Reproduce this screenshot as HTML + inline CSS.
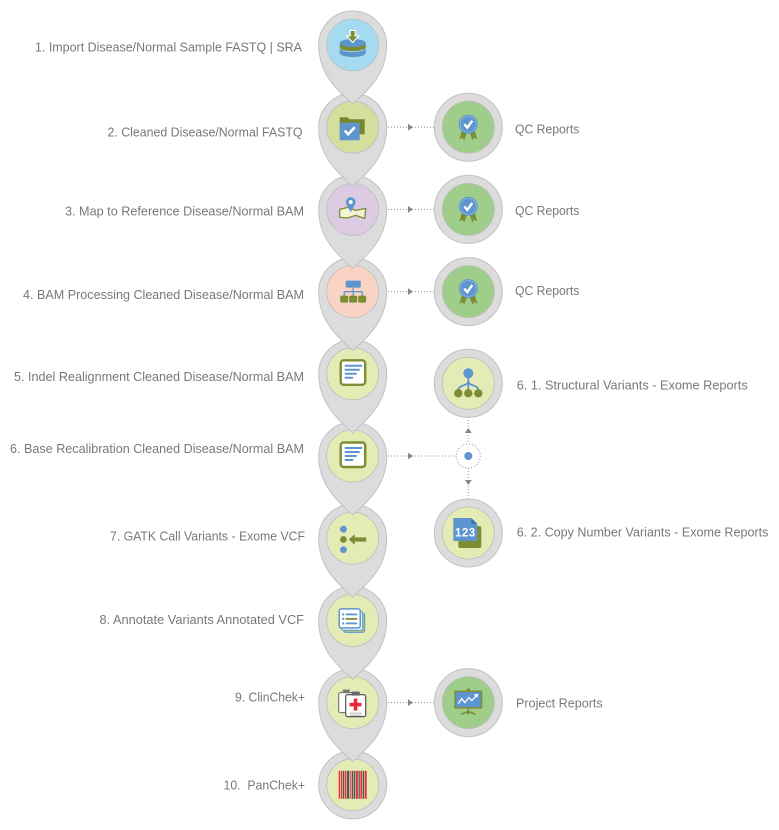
<!DOCTYPE html>
<html>
<head>
<meta charset="utf-8">
<style>
html,body{margin:0;padding:0;background:#fff;}
svg{display:block;}
text{font-family:"Liberation Sans",Arial,sans-serif;font-size:13px;fill:#787878;white-space:pre;}
</style>
</head>
<body>
<svg width="779" height="830" viewBox="0 0 779 830" xmlns="http://www.w3.org/2000/svg">

<!-- connectors -->
<g stroke="#9a9a9a" stroke-width="1.1" stroke-dasharray="1,2" fill="none">
  <line x1="388" y1="127.2" x2="434" y2="127.2"/>
  <line x1="388" y1="209.4" x2="434" y2="209.4"/>
  <line x1="388" y1="291.6" x2="434" y2="291.6"/>
  <line x1="388" y1="456" x2="456" y2="456"/>
  <line x1="388" y1="702.6" x2="434" y2="702.6"/>
  <line x1="468.3" y1="417" x2="468.3" y2="444"/>
  <line x1="468.3" y1="468" x2="468.3" y2="499"/>
  <circle cx="468.3" cy="456" r="12"/>
</g>
<g fill="#888">
  <polygon points="408,123.8 413,127.2 408,130.6"/>
  <polygon points="408,206 413,209.4 408,212.8"/>
  <polygon points="408,288.2 413,291.6 408,295"/>
  <polygon points="408,452.6 413,456 408,459.4"/>
  <polygon points="408,699.2 413,702.6 408,706"/>
  <polygon points="464.9,433 468.3,428 471.7,433"/>
  <polygon points="464.9,480 468.3,485 471.7,480"/>
</g>
<circle cx="468.3" cy="456" r="4" fill="#5d95cf"/>

<!-- right nodes -->
<g id="rq1" transform="translate(468.3,127.2)">
  <circle r="34" fill="#dcdcdc" stroke="#c2c2c2"/>
  <circle r="26" fill="#9fcd8a" stroke="#bdbdbd" stroke-width="0.8"/>
  <polygon points="-6,2 -1,4 -4,13 -6,10.5 -9,12" fill="#7d8d33"/>
  <polygon points="6,2 1,4 4,13 6,10.5 9,12" fill="#7d8d33"/>
  <circle cx="0" cy="-3" r="9.5" fill="#5d95cf"/>
  <circle cx="0" cy="-3" r="8" fill="none" stroke="#8fb8e2" stroke-width="0.8"/>
  <polyline points="-4,-3 -1,0.5 4,-6.5" fill="none" stroke="#fff" stroke-width="2.4"/>
</g>
<g transform="translate(468.3,209.4)">
  <circle r="34" fill="#dcdcdc" stroke="#c2c2c2"/>
  <circle r="26" fill="#9fcd8a" stroke="#bdbdbd" stroke-width="0.8"/>
  <polygon points="-6,2 -1,4 -4,13 -6,10.5 -9,12" fill="#7d8d33"/>
  <polygon points="6,2 1,4 4,13 6,10.5 9,12" fill="#7d8d33"/>
  <circle cx="0" cy="-3" r="9.5" fill="#5d95cf"/>
  <circle cx="0" cy="-3" r="8" fill="none" stroke="#8fb8e2" stroke-width="0.8"/>
  <polyline points="-4,-3 -1,0.5 4,-6.5" fill="none" stroke="#fff" stroke-width="2.4"/>
</g>
<g transform="translate(468.3,291.6)">
  <circle r="34" fill="#dcdcdc" stroke="#c2c2c2"/>
  <circle r="26" fill="#9fcd8a" stroke="#bdbdbd" stroke-width="0.8"/>
  <polygon points="-6,2 -1,4 -4,13 -6,10.5 -9,12" fill="#7d8d33"/>
  <polygon points="6,2 1,4 4,13 6,10.5 9,12" fill="#7d8d33"/>
  <circle cx="0" cy="-3" r="9.5" fill="#5d95cf"/>
  <circle cx="0" cy="-3" r="8" fill="none" stroke="#8fb8e2" stroke-width="0.8"/>
  <polyline points="-4,-3 -1,0.5 4,-6.5" fill="none" stroke="#fff" stroke-width="2.4"/>
</g>
<!-- structural variants -->
<g transform="translate(468.3,383.3)">
  <circle r="34" fill="#dcdcdc" stroke="#c2c2c2"/>
  <circle r="26" fill="#e5ebb4" stroke="#bdbdbd" stroke-width="0.8"/>
  <g stroke="#5d95cf" stroke-width="1.8" fill="none">
    <path d="M0,-6 V7"/>
    <path d="M0,-2 C0,3 -10,1 -10,7"/>
    <path d="M0,-2 C0,3 10,1 10,7"/>
  </g>
  <circle cx="0" cy="-10" r="5" fill="#5d95cf"/>
  <circle cx="-10" cy="10" r="4.2" fill="#7d8d33"/>
  <circle cx="0" cy="10" r="4.2" fill="#7d8d33"/>
  <circle cx="10" cy="10" r="4.2" fill="#7d8d33"/>
</g>
<!-- copy number -->
<g transform="translate(468.3,533)">
  <circle r="34" fill="#dcdcdc" stroke="#c2c2c2"/>
  <circle r="26" fill="#e5ebb4" stroke="#bdbdbd" stroke-width="0.8"/>
  <rect x="-10" y="-7" width="23" height="22" rx="2" fill="#7d8d33"/>
  <path d="M-15,-15 H3 L9,-9 V8 H-15 Z" fill="#5d95cf"/>
  <polygon points="3,-15 9,-9 3,-9" fill="#3e72aa"/>
  <text x="-3" y="3.5" text-anchor="middle" style="font-size:11.5px;font-weight:bold;fill:#fff;letter-spacing:0.5px">123</text>
</g>
<!-- project reports -->
<g transform="translate(468.3,702.6)">
  <circle r="34" fill="#dcdcdc" stroke="#c2c2c2"/>
  <circle r="26" fill="#9fcd8a" stroke="#bdbdbd" stroke-width="0.8"/>
  <rect x="-1.5" y="-14" width="3" height="3" fill="#7d8d33"/>
  <rect x="-14" y="-12" width="28" height="18" fill="#7d8d33"/>
  <rect x="-12.5" y="-10.5" width="25" height="15" fill="#5d95cf"/>
  <path d="M0,6 V12 M-7,12 Q0,7 7,12" stroke="#7d8d33" stroke-width="1.6" fill="none"/>
  <polyline points="-10,1 -6.5,-4 -3.5,0 0.5,-5 3.5,-2 8,-7" fill="none" stroke="#fff" stroke-width="1.3"/>
  <polygon points="10,-9 5.5,-8 9,-4.5" fill="#fff"/>
</g>

<!-- main pins, drawn bottom-up so tails overlay next node -->
<!-- 10 -->
<g transform="translate(352.7,784.8)">
  <circle r="34" fill="#dcdcdc" stroke="#c2c2c2"/>
  <circle r="26" fill="#e5ebb4" stroke="#bdbdbd" stroke-width="0.8"/>
  <g>
    <rect x="-14" y="-14" width="1.3" height="28" fill="#e8303f"/>
    <rect x="-12" y="-14" width="1.6" height="28" fill="#e8303f"/>
    <rect x="-9.8" y="-14" width="1.3" height="28" fill="#555"/>
    <rect x="-7.9" y="-14" width="1.6" height="28" fill="#e8303f"/>
    <rect x="-5.7" y="-14" width="2.2" height="28" fill="#555"/>
    <rect x="-2.9" y="-14" width="1.3" height="28" fill="#f0606a"/>
    <rect x="-1" y="-14" width="1.6" height="28" fill="#555"/>
    <rect x="1.2" y="-14" width="1.2" height="28" fill="#555"/>
    <rect x="3" y="-14" width="2.2" height="28" fill="#e8303f"/>
    <rect x="5.8" y="-14" width="1.3" height="28" fill="#555"/>
    <rect x="7.7" y="-14" width="1.6" height="28" fill="#e8303f"/>
    <rect x="9.9" y="-14" width="1.6" height="28" fill="#555"/>
    <rect x="12.1" y="-14" width="1.9" height="28" fill="#e8303f"/>
  </g>
</g>
<!-- 9 -->
<g transform="translate(352.7,702.6)">
  <path d="M0,59 C-14,46 -34,30 -34,0 A34,34 0 1 1 34,0 C34,30 14,46 0,59 Z" fill="#dcdcdc" stroke="#c2c2c2"/>
  <circle r="26" fill="#e5ebb4" stroke="#bdbdbd" stroke-width="0.8"/>
  <rect x="-14" y="-10" width="15" height="20" rx="2" fill="#fff" stroke="#666" stroke-width="1"/>
  <rect x="-10" y="-13" width="7" height="3.5" fill="#777"/>
  <rect x="-7" y="-8" width="20" height="22" rx="2" fill="#fff" stroke="#555" stroke-width="1.2"/>
  <rect x="-1" y="-11" width="8" height="4" fill="#666"/>
  <rect x="1" y="-4" width="3.6" height="12" fill="#e8283a"/>
  <rect x="-3.2" y="0.2" width="12" height="3.6" fill="#e8283a"/>
  <path d="M-3,10.5 H9 M-3,12.5 H9" stroke="#999" stroke-width="0.8"/>
</g>
<!-- 8 -->
<g transform="translate(352.7,620.4)">
  <path d="M0,59 C-14,46 -34,30 -34,0 A34,34 0 1 1 34,0 C34,30 14,46 0,59 Z" fill="#dcdcdc" stroke="#c2c2c2"/>
  <circle r="26" fill="#e5ebb4" stroke="#bdbdbd" stroke-width="0.8"/>
  <rect x="-9" y="-7" width="21" height="19" rx="2" fill="#b9c977" stroke="#5d95cf" stroke-width="1"/>
  <rect x="-11" y="-9" width="21" height="19" rx="2" fill="#e8f0fa" stroke="#5d95cf" stroke-width="1"/>
  <rect x="-13.5" y="-11.5" width="21" height="19" rx="2" fill="#fff" stroke="#5d95cf" stroke-width="1.5"/>
  <rect x="-10.5" y="-7" width="2" height="2" fill="#5d95cf"/>
  <rect x="-10.5" y="-2.5" width="2" height="2" fill="#5d95cf"/>
  <rect x="-10.5" y="2" width="2" height="2" fill="#5d95cf"/>
  <path d="M-7,-6 H4.5" stroke="#5d95cf" stroke-width="1.8"/>
  <path d="M-7,-1.5 H4.5" stroke="#7d8d33" stroke-width="1.8"/>
  <path d="M-7,3 H4.5" stroke="#5d95cf" stroke-width="1.8"/>
</g>
<!-- 7 -->
<g transform="translate(352.7,538.2)">
  <path d="M0,59 C-14,46 -34,30 -34,0 A34,34 0 1 1 34,0 C34,30 14,46 0,59 Z" fill="#dcdcdc" stroke="#c2c2c2"/>
  <circle r="26" fill="#e5ebb4" stroke="#bdbdbd" stroke-width="0.8"/>
  <circle cx="-9.3" cy="-9" r="3.4" fill="#5d95cf"/>
  <circle cx="-9.3" cy="1.3" r="3.4" fill="#7d8d33"/>
  <circle cx="-9.3" cy="11.5" r="3.4" fill="#5d95cf"/>
  <path d="M-4,1.3 L2,-4 L2,-0.8 L13.5,-0.8 L13.5,3.4 L2,3.4 L2,6.6 Z" fill="#7d8d33"/>
</g>
<!-- 6 -->
<g transform="translate(352.7,456)">
  <path d="M0,59 C-14,46 -34,30 -34,0 A34,34 0 1 1 34,0 C34,30 14,46 0,59 Z" fill="#dcdcdc" stroke="#c2c2c2"/>
  <circle r="26" fill="#e5ebb4" stroke="#bdbdbd" stroke-width="0.8"/>
  <rect x="-12" y="-13.5" width="24.5" height="24.5" rx="3" fill="#fff" stroke="#7d8d33" stroke-width="2.4"/>
  <path d="M-8,-8 H9.5 M-8,-4 H7 M-8,0 H4 M-8,4 H0.5" stroke="#5d95cf" stroke-width="2"/>
</g>
<!-- 5 -->
<g transform="translate(352.7,373.8)">
  <path d="M0,59 C-14,46 -34,30 -34,0 A34,34 0 1 1 34,0 C34,30 14,46 0,59 Z" fill="#dcdcdc" stroke="#c2c2c2"/>
  <circle r="26" fill="#e5ebb4" stroke="#bdbdbd" stroke-width="0.8"/>
  <rect x="-12" y="-13.5" width="24.5" height="24.5" rx="3" fill="#fff" stroke="#7d8d33" stroke-width="2.4"/>
  <path d="M-8,-8 H9.5 M-8,-4 H7 M-8,0 H4 M-8,4 H0.5" stroke="#5d95cf" stroke-width="2"/>
</g>
<!-- 4 -->
<g transform="translate(352.7,291.6)">
  <path d="M0,59 C-14,46 -34,30 -34,0 A34,34 0 1 1 34,0 C34,30 14,46 0,59 Z" fill="#dcdcdc" stroke="#c2c2c2"/>
  <circle r="26" fill="#f9d3c3" stroke="#bdbdbd" stroke-width="0.8"/>
  <rect x="-7" y="-11" width="15" height="7" rx="1" fill="#5d95cf"/>
  <path d="M0.5,-4 V0 M-8.5,0 H9.5 M-8.5,0 V5 M0.5,0 V5 M9.5,0 V5" stroke="#5d95cf" stroke-width="1.3" fill="none"/>
  <rect x="-12.5" y="4" width="8" height="7" rx="1.5" fill="#7d8d33"/>
  <rect x="-3.5" y="4" width="8" height="7" rx="1.5" fill="#7d8d33"/>
  <rect x="5.5" y="4" width="8" height="7" rx="1.5" fill="#7d8d33"/>
</g>
<!-- 3 -->
<g transform="translate(352.7,209.4)">
  <path d="M0,59 C-14,46 -34,30 -34,0 A34,34 0 1 1 34,0 C34,30 14,46 0,59 Z" fill="#dcdcdc" stroke="#c2c2c2"/>
  <circle r="26" fill="#dccae2" stroke="#bdbdbd" stroke-width="0.8"/>
  <path d="M-13,0 L-5,-2 L3,1 L13,-1 L12,9 L3,6 L-5,8.5 L-13,8 Z" fill="#f5f3d6" stroke="#7d8d33" stroke-width="1.3" stroke-linejoin="round"/>
  <path d="M-2,3 L-6.2,-5 A4.8,4.8 0 1 1 2.2,-5 Z" fill="#5d95cf"/>
  <circle cx="-2" cy="-7.3" r="2" fill="#fff"/>
</g>
<!-- 2 -->
<g transform="translate(352.7,127.2)">
  <path d="M0,59 C-14,46 -34,30 -34,0 A34,34 0 1 1 34,0 C34,30 14,46 0,59 Z" fill="#dcdcdc" stroke="#c2c2c2"/>
  <circle r="26" fill="#d4df9d" stroke="#bdbdbd" stroke-width="0.8"/>
  <path d="M-13,-10 H-5 L-3,-8 H12 V7 H-13 Z" fill="#76872f"/>
  <rect x="-13" y="-4.5" width="20" height="17.5" rx="1" fill="#5d95cf"/>
  <polyline points="-8,3.5 -4.5,7 2,0" fill="none" stroke="#fff" stroke-width="2.6"/>
</g>
<!-- 1 -->
<g transform="translate(352.7,45)">
  <path d="M0,59 C-14,46 -34,30 -34,0 A34,34 0 1 1 34,0 C34,30 14,46 0,59 Z" fill="#dcdcdc" stroke="#c2c2c2"/>
  <circle r="26" fill="#a4dbf1" stroke="#bdbdbd" stroke-width="0.8"/>
  <ellipse cx="0" cy="8" rx="13" ry="4" fill="#5d95cf"/>
  <rect x="-13" y="3" width="26" height="5" fill="#5d95cf"/>
  <ellipse cx="0" cy="3" rx="13" ry="4" fill="#a4dbf1"/>
  <ellipse cx="0" cy="2.2" rx="13" ry="4" fill="#7d8d33"/>
  <rect x="-13" y="-2" width="26" height="4.2" fill="#7d8d33"/>
  <ellipse cx="0" cy="-2" rx="13" ry="4" fill="#5d95cf"/>
  <path d="M-2.5,-14.5 H2.5 V-9 H6 L0,-2.5 L-6,-9 H-2.5 Z" fill="#7d8d33" stroke="#fff" stroke-width="1.1"/>
</g>

<!-- left labels -->
<text x="35" y="51.5" textLength="267" lengthAdjust="spacingAndGlyphs">1. Import Disease/Normal Sample FASTQ | SRA</text>
<text x="107.5" y="136.5" textLength="195" lengthAdjust="spacingAndGlyphs">2. Cleaned Disease/Normal FASTQ</text>
<text x="65" y="215.5" textLength="239" lengthAdjust="spacingAndGlyphs">3. Map to Reference Disease/Normal BAM</text>
<text x="23" y="299" textLength="281" lengthAdjust="spacingAndGlyphs">4. BAM Processing Cleaned Disease/Normal BAM</text>
<text x="14" y="381" textLength="290" lengthAdjust="spacingAndGlyphs">5. Indel Realignment Cleaned Disease/Normal BAM</text>
<text x="10" y="453" textLength="294" lengthAdjust="spacingAndGlyphs">6. Base Recalibration Cleaned Disease/Normal BAM</text>
<text x="110" y="540.5" textLength="195" lengthAdjust="spacingAndGlyphs">7. GATK Call Variants - Exome VCF</text>
<text x="99.5" y="624" textLength="204.5" lengthAdjust="spacingAndGlyphs">8. Annotate Variants Annotated VCF</text>
<text x="235" y="701.7" textLength="70" lengthAdjust="spacingAndGlyphs">9. ClinChek+</text>
<text x="223.5" y="789.3" textLength="81.5" lengthAdjust="spacingAndGlyphs">10.  PanChek+</text>

<!-- right labels -->
<text x="515" y="133.3" textLength="64.3" lengthAdjust="spacingAndGlyphs">QC Reports</text>
<text x="515" y="215" textLength="64.3" lengthAdjust="spacingAndGlyphs">QC Reports</text>
<text x="515" y="295" textLength="64.3" lengthAdjust="spacingAndGlyphs">QC Reports</text>
<text x="516.7" y="389.3" textLength="231" lengthAdjust="spacingAndGlyphs">6. 1. Structural Variants - Exome Reports</text>
<text x="516.7" y="536.7" textLength="251.7" lengthAdjust="spacingAndGlyphs">6. 2. Copy Number Variants - Exome Reports</text>
<text x="516" y="707.3" textLength="86.7" lengthAdjust="spacingAndGlyphs">Project Reports</text>
</svg>
</body>
</html>
